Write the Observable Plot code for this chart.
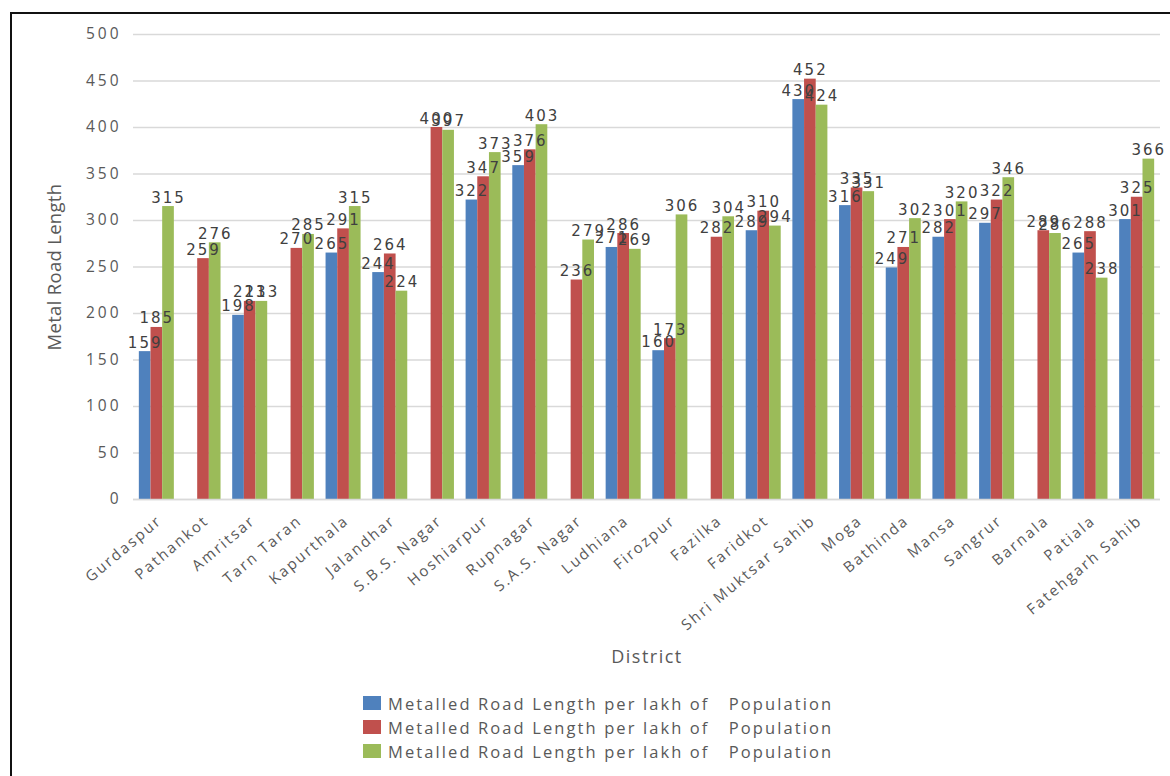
<!DOCTYPE html>
<html>
<head>
<meta charset="utf-8">
<script src="https://cdn.jsdelivr.net/npm/d3@7"></script>
<script src="https://cdn.jsdelivr.net/npm/@observablehq/plot@0.6"></script>
<style>
  body { margin: 0; background: #fff; font-family: "Open Sans", sans-serif; }
  #chart { position: absolute; left: 0; top: 0; width: 1170px; }
  #frame { position: absolute; left: 10px; top: 12px; width: 1200px; height: 800px;
           border-left: 2px solid #111; border-top: 2px solid #111; pointer-events: none; }
  #chart svg text { letter-spacing: 2px; }
  #chart svg g[aria-label="y-axis tick label"] text { letter-spacing: 3px; }
  #chart svg g[aria-label="x-axis tick label"] text { letter-spacing: 2.1px; }
  #chart svg text.ytitle { letter-spacing: 0.3px; }
  #chart svg text.xtitle { letter-spacing: 1.5px; }
  #legend { margin-left: 363px; padding-top: 11px; }
  .row { display: flex; align-items: center; height: 24px; }
  .sw { width: 18px; height: 14px; margin-right: 7px; }
  .lbl { font-size: 16.5px; color: #595959; white-space: pre; letter-spacing: 2.1px; }
</style>
</head>
<body>
<div id="chart"></div>
<div id="frame"></div>
<script>
// Districts of Punjab, in chart order
const districts = [
  "Gurdaspur", "Pathankot", "Amritsar", "Tarn Taran", "Kapurthala", "Jalandhar",
  "S.B.S. Nagar", "Hoshiarpur", "Rupnagar", "S.A.S. Nagar", "Ludhiana", "Firozpur",
  "Fazilka", "Faridkot", "Shri Muktsar Sahib", "Moga", "Bathinda", "Mansa",
  "Sangrur", "Barnala", "Patiala", "Fatehgarh Sahib"
];

// Three series (null = no value reported)
const seriesA = [159, null, 198, null, 265, 244, null, 322, 359, null, 271, 160,
                 null, 289, 430, 316, 249, 282, 297, null, 265, 301];
const seriesB = [185, 259, 213, 270, 291, 264, 400, 347, 376, 236, 286, 173,
                 282, 310, 452, 335, 271, 301, 322, 289, 288, 325];
const seriesC = [315, 276, 213, 285, 315, 224, 397, 373, 403, 279, 269, 306,
                 304, 294, 424, 331, 302, 320, 346, 286, 238, 366];

const seriesKeys = ["s1", "s2", "s3"];
const seriesLabels = [
  "Metalled Road Length per lakh of   Population",
  "Metalled Road Length per lakh of   Population",
  "Metalled Road Length per lakh of   Population"
];
const seriesColors = ["#4f81bd", "#c0504d", "#9bbb59"];
const yTicks = [0, 50, 100, 150, 200, 250, 300, 350, 400, 450, 500];
const xTitle = "District";
const yTitle = "Metal Road Length";

// One band per bar, plus one empty band between districts as the group gap
const slot = (d, s) => d + "|" + s;
const xDomain = districts.flatMap((d, i) =>
  i < districts.length - 1
    ? [...seriesKeys.map(s => slot(d, s)), slot(d, "gap")]
    : seriesKeys.map(s => slot(d, s))
);
const xTicks = districts.map(d => slot(d, "s2")); // middle bar = group centre

const allSeries = [seriesA, seriesB, seriesC];
const rows = districts.flatMap((d, i) =>
  allSeries.map((s, k) => ({district: d, series: seriesKeys[k], slot: slot(d, seriesKeys[k]), value: s[i]}))
).filter(r => r.value != null);

const chart = Plot.plot({
  width: 1170,
  height: 680,
  marginLeft: 133,
  marginRight: 10,
  marginTop: 34,
  marginBottom: 181,
  style: {fontFamily: "Open Sans", fontSize: "15px", color: "#595959", background: "transparent"},
  x: {domain: xDomain, paddingInner: 0, paddingOuter: 0.5},
  y: {domain: [0, 500]},
  color: {domain: seriesKeys, range: seriesColors},
  marks: [
    Plot.gridY(yTicks, {stroke: "#d9d9d9", strokeOpacity: 1, strokeWidth: 1.5}),
    Plot.axisY({ticks: yTicks, tickSize: 0, tickPadding: 12, label: null, fontSize: 15.5}),
    Plot.axisX({
      ticks: xTicks, tickFormat: k => k.split("|")[0], tickRotate: -40,
      tickSize: 0, tickPadding: 19, dx: 3, label: null, fontSize: 15
    }),
    Plot.barY(rows, {x: "slot", y: "value", fill: "series"}),
    Plot.ruleY([0], {stroke: "#d9d9d9", strokeWidth: 1.5}),
    Plot.text(rows, {
      x: "slot", y: "value", text: d => String(d.value),
      lineAnchor: "bottom", dy: -4, fill: "#404040", fontSize: 15,
      fontFamily: "DejaVu Sans"
    }),
    // axis titles
    Plot.text([yTitle], {
      frameAnchor: "left", rotate: -90, dx: -78, fontSize: 18.5,
      fill: "#595959", textAnchor: "middle"
    }),
    Plot.text([xTitle], {
      frameAnchor: "bottom", dy: 163, fontSize: 18, fill: "#595959"
    })
  ]
});

// tag the two title texts so they get their own spacing
const textGroups = chart.querySelectorAll('g[aria-label="text"]');
textGroups[1].querySelectorAll("text").forEach(t => t.classList.add("ytitle"));
textGroups[2].querySelectorAll("text").forEach(t => t.classList.add("xtitle"));

const host = document.getElementById("chart");
host.appendChild(chart);

// Legend below the plot
const legend = document.createElement("div");
legend.id = "legend";
seriesKeys.forEach((k, i) => {
  const row = document.createElement("div");
  row.className = "row";
  const sw = document.createElement("span");
  sw.className = "sw";
  sw.style.background = seriesColors[i];
  const lbl = document.createElement("span");
  lbl.className = "lbl";
  lbl.textContent = seriesLabels[i];
  row.appendChild(sw);
  row.appendChild(lbl);
  legend.appendChild(row);
});
host.appendChild(legend);
</script>
</body>
</html>
